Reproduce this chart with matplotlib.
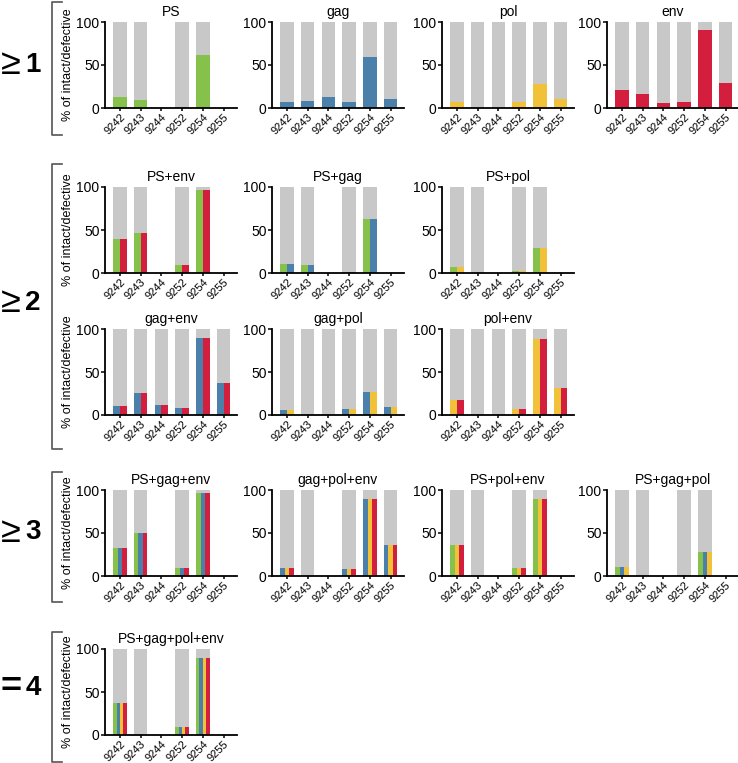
import matplotlib
matplotlib.use("Agg")
import matplotlib.pyplot as plt
from matplotlib.lines import Line2D

plt.rcParams['font.family'] = ['Liberation Sans', 'DejaVu Sans']

# ==========================================
# DATA (% of intact/defective, None = no bar)
# ==========================================
donors = ['9242', '9243', '9244', '9252', '9254', '9255']

ps = [13, 9, None, 1.5, 62, None]
gag = [7, 8, 12.5, 6.5, 59.5, 11]
pol = [6.5, 0, 0, 6.5, 27.5, 10]
env = [20.5, 16, 5.5, 7.5, 90.5, 28.5]

ps_env = [39, 47, None, 9.5, 96.5, None]
ps_gag = [10, 9, None, 1.5, 62.5, None]
ps_pol = [6.5, 0, None, 2, 29, None]
gag_env = [10.5, 25.5, 12, 8, 89.5, 37]
gag_pol = [6, 0, 0, 6.5, 26.5, 9.5]
pol_env = [17.5, 0, 0, 7.5, 88.5, 31.5]

ps_gag_env = [33, 50, None, 9, 96.5, None]
gag_pol_env = [9.5, 0, None, 8.5, 89, 36]
ps_pol_env = [36, 0, None, 9, 89, None]
ps_gag_pol = [10, 0, None, 1.5, 28, None]

ps_gag_pol_env = [37, 0, None, 9.5, 89.5, None]

COLORS = {'PS': '#86C24B', 'gag': '#4A80A9', 'pol': '#F2C13A', 'env': '#D31E3D'}
GRAY = '#C8C8C8'

# (title, values, row y-top px, column x-left px)
panels = [
    ('PS', ps, 22, 105), ('gag', gag, 22, 272), ('pol', pol, 22, 442), ('env', env, 22, 607),
    ('PS+env', ps_env, 187, 105), ('PS+gag', ps_gag, 187, 272), ('PS+pol', ps_pol, 187, 442),
    ('gag+env', gag_env, 329, 105), ('gag+pol', gag_pol, 329, 272), ('pol+env', pol_env, 329, 442),
    ('PS+gag+env', ps_gag_env, 490, 105), ('gag+pol+env', gag_pol_env, 490, 272),
    ('PS+pol+env', ps_pol_env, 490, 442), ('PS+gag+pol', ps_gag_pol, 490, 607),
    ('PS+gag+pol+env', ps_gag_pol_env, 649, 105),
]

W, H = 738, 763
fig = plt.figure(figsize=(W / 100, H / 100), dpi=100)

AX_W, AX_H = 132, 86
BAR_W = 0.65

for title, vals, ytop, xleft in panels:
    ax = fig.add_axes([xleft / W, 1 - (ytop + AX_H) / H, AX_W / W, AX_H / H])
    parts = title.split('+')
    n = len(parts)
    for i, v in enumerate(vals):
        if v is None:
            continue
        ax.bar(i, 100, width=BAR_W, color=GRAY, linewidth=0)
        sub_w = BAR_W / n
        for k, p in enumerate(parts):
            x0 = i - BAR_W / 2 + sub_w * (k + 0.5)
            ax.bar(x0, v, width=sub_w, color=COLORS[p], linewidth=0)
    ax.set_xlim(-0.72, 5.65)
    ax.set_ylim(0, 100)
    ax.set_yticks([0, 50, 100])
    ax.set_xticks(range(len(donors)))
    ax.set_xticklabels(donors, rotation=45, ha='right', va='top',
                       rotation_mode='anchor', fontsize=8)
    ax.tick_params(axis='y', labelsize=10, length=3, width=1.1, pad=1)
    ax.tick_params(axis='x', length=2.5, width=1.1, pad=0)
    for s in ['top', 'right']:
        ax.spines[s].set_visible(False)
    for s in ['left', 'bottom']:
        ax.spines[s].set_linewidth(1.3)
    ax.set_title(title, fontsize=10, pad=4)
    if xleft == 105:
        ax.set_ylabel('% of intact/defective', fontsize=9, labelpad=2)

# group labels and brackets
groups = [('\u2265', '1', 65, 2, 135), ('\u2265', '2', 303, 164, 449),
          ('\u2265', '3', 532, 472, 602), ('=', '4', 688, 632, 762)]
for sym, num, yc, yb0, yb1 in groups:
    fig.text(11 / W, 1 - yc / H, sym, fontsize=26, ha='center', va='center',
             fontweight='bold' if sym == '=' else 'normal')
    fig.text(33 / W, 1 - yc / H, num, fontsize=20, ha='center', va='center', fontweight='bold')
    xs = [62 / W, 52 / W, 52 / W, 62 / W]
    ys = [1 - yb0 / H, 1 - yb0 / H, 1 - yb1 / H, 1 - yb1 / H]
    fig.add_artist(Line2D(xs, ys, color='#555555', linewidth=1.2))

fig.savefig('out.png', dpi=100)
